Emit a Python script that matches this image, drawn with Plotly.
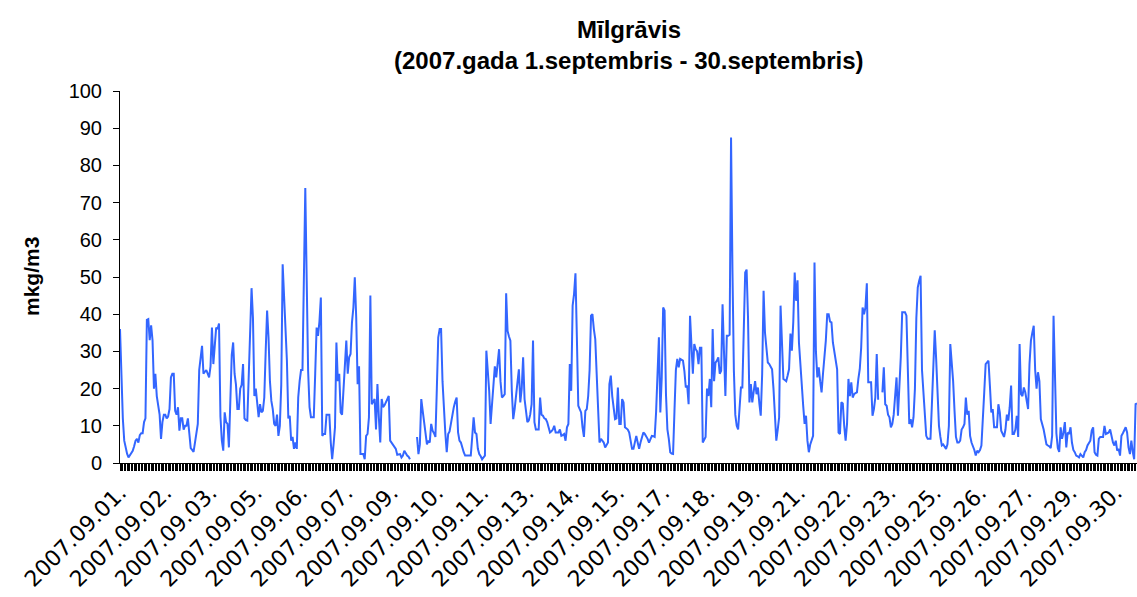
import plotly.graph_objects as go

# Hourly values, 1-30 September 2007 (24 per day), mkg/m3
sep_01 = [36, 23, 12, 6, 4, 2.5, 1.5, 2, 2.5, 3.3, 4.5, 6, 6.5, 5.5, 7.5, 8, 8, 11, 12, 38.5, 38.7, 33, 37, 33]
sep_02 = [20, 24, 18, 16, 13, 6.5, 11, 13, 13, 12, 12.5, 14.5, 23, 24, 24, 14, 13, 15, 8.7, 12, 12, 9, 10, 10]
sep_03 = [12, 8, 4, 3.5, 3, 5.5, 8, 10.5, 25, 29, 31.5, 24, 24.5, 25, 24, 23, 26, 36.4, 26.6, 33, 36.4, 36, 37.5, 12.5]
sep_04 = [6, 3.3, 13.6, 11, 10.5, 4.2, 17.6, 29, 32.4, 24, 21, 14.5, 14.5, 20, 21, 26.6, 12, 11.5, 11.4, 23, 38, 47, 39, 18]
sep_05 = [20, 15.4, 12.3, 15.8, 13.6, 14, 17.6, 30, 41, 33.8, 22, 16.7, 14.5, 10.5, 10, 13, 7.3, 10, 21, 53.4, 44, 33.8, 27.5, 12]
sep_06 = [12.7, 6, 7, 3.8, 5.5, 3.8, 17.6, 22, 25, 25, 49, 73.9, 49, 24.8, 15, 12.3, 12.3, 12.3, 24, 36.4, 34.2, 38, 44.5, 7.3]
sep_07 = [7.8, 7.8, 13, 13, 13, 5.5, 1, 5, 9.6, 32.4, 22, 24, 13.6, 13, 20, 27, 32.9, 24, 28.4, 29.3, 37.8, 41.8, 49.9, 39]
sep_08 = [21.2, 26, 2.4, 2.4, 2.4, 1, 7.3, 7.8, 12.3, 45, 15.8, 16.5, 17.2, 9, 21.2, 12.3, 5.5, 17.2, 15, 15.5, 16.3, 17, 18, 6]
sep_09 = [5.5, 5, 4.5, 3.8, 2.2, 2.4, 2.4, 1.5, 2, 3.3, 2.4, 2, 1.7, 1, None, None, None, None, 7, 2.4, 5, 17.2, 14, 11]
sep_10 = [7.3, 5, 6, 5.5, 10.5, 8.7, 8, 7, 20, 33.8, 36, 36, 22, 13, 8, 2.9, 7.8, 8.5, 11, 13, 15, 16.5, 17.6, 8.2]
sep_11 = [6, 5.5, 4, 2.9, 2, 2, 2, 2, 2, 7, 12.3, 8.2, 7.8, 3.8, 2.4, 1.8, 1, 1.5, 2, 30.2, 25, 19.4, 10.5, 16.7]
sep_12 = [20, 26, 23, 26.6, 30.6, 22, 17.6, 18, 18.5, 45.6, 35.5, 34, 32.9, 19.4, 11.8, 14.5, 19.4, 21.7, 25.2, 16.3, 20, 28.4, 17.2, 14]
sep_13 = [11, 11.4, 13, 15.8, 32.9, 11, 9, 9, 9, 17.6, 13, 12.7, 12, 11.8, 11, 9.6, 8.2, 8.5, 9, 10, 8.2, 8.2, 8.2, 9]
sep_14 = [7.3, 7.5, 7.8, 6, 9.6, 10.5, 26.6, 19.4, 42.3, 45.4, 51, 33.8, 15.4, 14.5, 13.6, 9.6, 7, 14, 14.5, 18, 25, 39.6, 40, 36]
sep_15 = [33.3, 24, 12, 5.5, 6.5, 6, 5.5, 4.2, 5, 5.5, 21.2, 23.5, 18, 14, 11.8, 12, 20.3, 10.5, 10.5, 17.2, 16.3, 9.6, 9.3, 9]
sep_16 = [8.2, 6, 3.8, 3.8, 5.5, 7.3, 5.5, 3.8, 5.5, 7, 8.2, 7.8, 7.3, 6.5, 5.5, 6.5, 7.3, 7.2, 7, 13.6, 25, 33.8, 13.6, 23]
sep_17 = [41.8, 41, 18.5, 9, 6.5, 2.9, 2.5, 2.4, 14, 25, 28, 25.7, 28, 27.8, 27.5, 24.8, 20.3, 20.8, 15.8, 39.6, 32, 24, 32, 30.6]
sep_18 = [30, 26.6, 31, 31, 5.5, 6.5, 7, 20, 18, 22.6, 15, 36, 22, 27, 27.5, 28.4, 24, 24.8, 42.7, 30, 18, 34.2, 34.2, 34.5]
sep_19 = [87.5, 51.7, 24.8, 13, 10, 9, 14, 20.3, 20.3, 40, 51.2, 52, 39, 16.3, 21.2, 16.3, 20, 22, 18.5, 20.3, 16, 12.7, 24, 46.3]
sep_20 = [35, 29.7, 27, 26.6, 26, 25.2, 20, 12, 6, 9, 12.3, 42.3, 30, 22.6, 22.3, 22, 23.5, 25.2, 34.8, 30.2, 38, 51.2, 43.6, 49.1]
sep_21 = [32.4, 25.7, 20, 15.4, 10.5, 12.7, 6, 2.9, 5, 6, 7.3, 53.9, 30, 23, 25.7, 22, 19, 24, 28, 32.9, 40, 40, 38, 37.8]
sep_22 = [32.4, 30.2, 28, 25.2, 8.2, 7.8, 16.3, 16, 10, 6, 10.5, 22.6, 18, 21.7, 17.6, 18.5, 18.8, 19, 22.6, 25.2, 31, 41.8, 40, 41.8]
sep_23 = [48.3, 21.7, 21.7, 21.7, 12.7, 14.5, 17.6, 29.3, 17, None, None, 19, 25.7, 15.8, 15.4, 13, 12.3, 9.6, 10.5, 13, 18, 23, 12.7, 20]
sep_24 = [28.4, 40.5, 40.5, 40.5, 39.6, 27.5, 10.5, 11.8, 9.6, 12.3, 20, 39, 47.2, 49, 50.3, 25, 18.5, 13, 7.3, 6.5, 6.5, 6.5, 15.8, 27.5]
sep_25 = [35.7, 28, 15.8, 10, 7, 4.7, 5, 4.5, 3.8, 5, 10, 32, 27, 22, 14, 7, 5.5, 5.5, 6, 9, 9.6, 10.5, 17.6, 13]
sep_26 = [14, 7.3, 5.5, 4.7, 3.5, 2, 3.3, 2.9, 3.5, 4.7, 10.5, 19, 26.6, 27, 27.5, 20.8, 13.6, 14.5, 9.6, 9.6, 9.6, 15.8, 13.6, 8.7]
sep_27 = [8, 7, 9, 13, 11.4, 15, 20.8, 7.8, 7.8, 9, 12.7, 7, 32, 18.5, 18, 20.3, 19, 16, 14.5, 26.6, 32.9, 35, 36.9, 25]
sep_28 = [20, 24.4, 22, 11.8, 10.5, 9, 7, 5, 4.7, 4.5, 4, 7.3, 39.6, 20, 8, 4, 3, 9.6, 6.5, 8.2, 11, 4.2, 8.2, 7.8]
sep_29 = [9.6, 5.5, 3.5, 2.9, 2, 1.8, 1.5, 2.4, 1.8, 1.5, 2.9, 3.5, 4.7, 5.5, 6, 8.7, 9.6, 2.9, 2.2, 2, 6.5, 7, 7, 7]
sep_30 = [10, 7.8, 8, 8.2, 9, 7, 5.5, 4.7, 6, 3.3, 3.8, 2, 7.3, 8, 8.7, 9.6, 8.2, 4.2, 2.4, 6, 3, 1, 15.8, 16]

day_series = [sep_01, sep_02, sep_03, sep_04, sep_05, sep_06, sep_07, sep_08, sep_09, sep_10,
              sep_11, sep_12, sep_13, sep_14, sep_15, sep_16, sep_17, sep_18, sep_19, sep_20,
              sep_21, sep_22, sep_23, sep_24, sep_25, sep_26, sep_27, sep_28, sep_29, sep_30]
day_labels = [f"2007.09.{d:02d}." for d in range(1, 31)]

title_line1 = "Mīlgrāvis"
title_line2 = "(2007.gada 1.septembris - 30.septembris)"
y_title = "mkg/m3"
label_every = 32  # category label interval (hours)

values = []
hour_labels = []
for lab, vals in zip(day_labels, day_series):
    values.extend(vals)
    hour_labels.extend([lab] * len(vals))
x = list(range(len(values)))

tickvals = list(range(0, len(values), label_every))
ticktext = [hour_labels[i] for i in tickvals]

W, H = 1137, 597
ML, MR, MT, MB = 120, 0, 91, 134
PH = H - MT - MB

fig = go.Figure(go.Scatter(
    x=x, y=values, mode="lines", connectgaps=False,
    line=dict(color="#3366FF", width=2),
    text=hour_labels, hovertemplate="%{text}<br>%{y}<extra></extra>",
))

title_font = dict(size=24, family="Liberation Sans, Arial, sans-serif", color="black")

fig.update_layout(
    width=W, height=H,
    margin=dict(l=ML, r=MR, t=MT, b=MB, autoexpand=False),
    paper_bgcolor="white", plot_bgcolor="white",
    showlegend=False,
    font=dict(family="Liberation Sans, Arial, sans-serif", color="black"),
    xaxis=dict(
        automargin=False,
        range=[0, len(values) - 1],
        tickmode="array", tickvals=tickvals, ticktext=ticktext,
        tickangle=-45, tickfont=dict(size=22, family="DejaVu Sans, sans-serif"),
        ticks="outside", ticklen=7, tickwidth=1, tickcolor="black",
        showline=True, linecolor="black", linewidth=1,
        showgrid=False, zeroline=False,
        minor=dict(tickmode="linear", tick0=0, dtick=1, ticks="outside",
                   ticklen=7, tickwidth=1, tickcolor="black", showgrid=False),
    ),
    yaxis=dict(
        automargin=False,
        range=[0, 100], tickmode="linear", tick0=0, dtick=10,
        tickfont=dict(size=20),
        ticks="outside", ticklen=6, tickwidth=1, tickcolor="black",
        ticklabelstandoff=7,
        showline=True, linecolor="black", linewidth=1,
        showgrid=False, zeroline=False,
    ),
    annotations=[
        dict(text=f"<b>{title_line1}</b>", xref="paper", yref="paper",
             x=0.5, y=1 + (MT - 30) / PH, xanchor="center", yanchor="middle",
             showarrow=False, font=title_font),
        dict(text=f"<b>{title_line2}</b>", xref="paper", yref="paper",
             x=0.5, y=1 + (MT - 60) / PH, xanchor="center", yanchor="middle",
             showarrow=False, font=title_font),
        dict(text=f"<b>{y_title}</b>", xref="paper", yref="paper",
             x=(31 - ML) / (W - ML - MR), y=0.5, xanchor="center", yanchor="middle",
             textangle=-90, showarrow=False, font=dict(size=21)),
    ],
)

fig.write_html(
    "out.html",
    config={"displayModeBar": False},
    post_script="document.body.style.margin='0';document.body.style.overflow='hidden';",
)
